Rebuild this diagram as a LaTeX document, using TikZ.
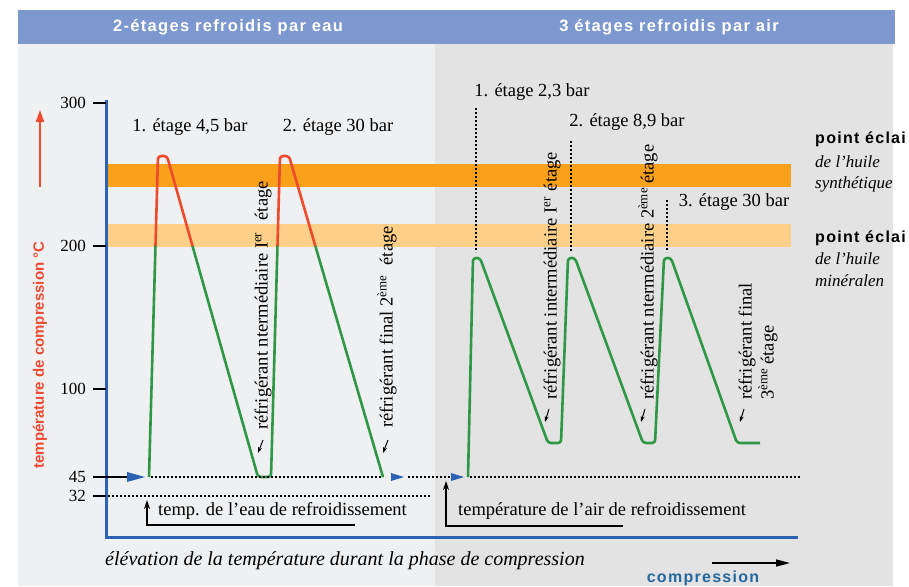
\documentclass[tikz,border=0pt]{standalone}
\usepackage{fontspec}
\setmainfont{Liberation Serif}
\setsansfont{Liberation Sans}
\newfontfamily\widesans[LetterSpace=8.0]{Liberation Sans}
\usetikzlibrary{arrows.meta}

\definecolor{bandblue}{HTML}{7C98CF}
\definecolor{lightpanel}{HTML}{EFF0F2}
\definecolor{panelgray}{HTML}{E3E3E4}
\definecolor{orangedark}{HTML}{F9A11B}
\definecolor{orangelight}{HTML}{FDD08A}
\definecolor{axisblue}{HTML}{2C62B4}
\definecolor{hotred}{HTML}{EE4A2B}
\definecolor{coolgreen}{HTML}{2F9845}
\definecolor{labelred}{HTML}{F04A32}
\definecolor{comptext}{HTML}{2468A0}

\begin{document}
\begin{tikzpicture}[x=1pt, y=-1pt,
    curve/.style={line width=2.6pt, line join=round, rounded corners=3pt},
    hot/.style={curve, draw=hotred},
    cool/.style={curve, draw=coolgreen},
    dotline/.style={line width=2pt, dash pattern=on 2pt off 2pt},
    tickmark/.style={line width=1.2pt},
    lbl/.style={font=\fontsize{18.5}{20}\selectfont, inner sep=0pt},
    vlbl/.style={lbl, rotate=90, anchor=west},
    ticklbl/.style={lbl, font=\fontsize{17}{19}\selectfont, anchor=east},
    headtxt/.style={font=\widesans\bfseries\fontsize{16.5}{18}\selectfont, text=white, inner sep=0pt},
    oiltitle/.style={font=\widesans\bfseries\fontsize{16}{18}\selectfont, anchor=west, inner sep=0pt},
    oiltxt/.style={font=\itshape\fontsize{17}{19}\selectfont, anchor=west, inner sep=0pt},
    coolarrow/.style={-{Stealth[length=6pt, width=4pt]}, line width=1pt},
    bluetip/.style={fill=axisblue}]
    \useasboundingbox (0,0) rectangle (909,586);

    % panels and header
    \fill[lightpanel] (18,44) rectangle (435,586);
    \fill[panelgray] (435,44) rectangle (893,586);
    \fill[bandblue] (18,10) rectangle (895,44);
    \node[headtxt] (headWater) at (228,27) {2-étages refroidis par eau};
    \node[headtxt] (headAir) at (669,27) {3 étages refroidis par air};

    % flash point bands
    \fill[orangedark] (106,164) rectangle (791,187);
    \fill[orangelight] (106,224) rectangle (791,247);

    % axes
    \draw[axisblue, line width=3pt] (106,100) -- (106,537) -- (798,537);
    \foreach \yy/\tt in {103/300, 246/200, 389/100, 477/45, 496/32}{
        \draw[tickmark] (93,\yy) -- (106,\yy);
        \node[ticklbl] (tick\tt) at (86,\yy) {\tt};
    }
    \node[font=\sffamily\bfseries\fontsize{15}{17}\selectfont, text=labelred, rotate=90, inner sep=0pt] (yTitle) at (40,355) {température de compression °C};
    \draw[labelred, line width=2pt, -{Triangle[length=12pt, width=8pt]}] (40,187) -- (40,110);

    % water cooled, 2 stages
    \def\waterpath{(149,477) -- (158,156) -- (167,156) -- (258,477) -- (271,477) -- (280,156) -- (289,156) -- (383,477)}
    \begin{scope}
        \clip (100,100) rectangle (440,246);
        \draw[hot] \waterpath;
    \end{scope}
    \begin{scope}
        \clip (100,246) rectangle (440,490);
        \draw[cool] \waterpath;
    \end{scope}

    % air cooled, 3 stages
    \draw[cool] (468,477) -- (473,258) -- (480,258) -- (548,443) -- (561,443) -- (568,258) -- (575,258)
        -- (643,443) -- (655,443) -- (664,258) -- (671,258) -- (737,443) -- (760,443);

    % dotted lines
    \draw[dotline] (151,477) -- (383,477);
    \draw[dotline] (408,477) -- (450,477);
    \draw[dotline] (470,477) -- (800,477);
    \draw[dotline] (108,496) -- (430,496);
    \draw[dotline] (476,108) -- (476,252);
    \draw[dotline] (571,141) -- (571,252);
    \draw[dotline] (667,200) -- (667,252);

    % inlet arrows
    \draw[tickmark] (93,477) -- (130,477);
    \fill[bluetip] (127,472) -- (145,477) -- (127,482) -- cycle;
    \fill[bluetip] (391,473) -- (404,477) -- (391,481) -- cycle;
    \fill[bluetip] (451,473) -- (464,477) -- (451,481) -- cycle;

    % stage labels
    \node[lbl] (wStage1) at (190,127) {1. étage 4,5 bar};
    \node[lbl] (wStage2) at (338,127) {2. étage 30 bar};
    \node[lbl] (aStage1) at (532,92) {1. étage 2,3 bar};
    \node[lbl] (aStage2) at (627,122) {2. étage 8,9 bar};
    \node[lbl] (aStage3) at (734,202) {3. étage 30 bar};

    % cooler labels
    \node[vlbl] (wCool1) at (263,430) {réfrigérant ntermédiaire I\textsuperscript{er}\hspace{12pt}étage};
    \node[vlbl] (wCool2) at (387,428) {réfrigérant final 2\textsuperscript{ème}\hspace{10pt}étage};
    \node[vlbl] (aCool1) at (552,400) {réfrigérant intermédiaire I\textsuperscript{er}\hspace{6pt}étage};
    \node[vlbl] (aCool2) at (648,400) {réfrigérant ntermédiaire 2\textsuperscript{ème}\hspace{4pt}étage};
    \node[vlbl] (aCool3a) at (747,400) {réfrigérant final};
    \node[vlbl] (aCool3b) at (768,400) {3\textsuperscript{ème}\hspace{4pt}étage};
    \draw[coolarrow] (263,440) -- (258,453);
    \draw[coolarrow] (388,440) -- (383,453);
    \draw[coolarrow] (549,409) -- (545,422);
    \draw[coolarrow] (645,409) -- (641,422);
    \draw[coolarrow] (744,409) -- (740,422);

    % cooling medium
    \node[lbl, anchor=west] (waterTemp) at (158,511) {temp. de l’eau de refroidissement};
    \node[lbl, anchor=west] (airTemp) at (458,511) {température de l’air de refroidissement};
    \coordinate (waterFoot) at (355,525);
    \coordinate (waterTip) at (147,500);
    \coordinate (airFoot) at (623,526);
    \coordinate (airTip) at (446,481);
    \draw[line width=1.2pt, -{Stealth[length=9pt, width=6pt]}] (waterFoot) -| (waterTip);
    \draw[line width=1.2pt, -{Stealth[length=9pt, width=6pt]}] (airFoot) -| (airTip);

    % oil flash points
    \node[oiltitle] (synTitle) at (815,139) {point éclai};
    \node[oiltxt] (synA) at (815,162) {de l’huile};
    \node[oiltxt] (synB) at (815,184) {synthétique};
    \node[oiltitle] (minTitle) at (815,238) {point éclai};
    \node[oiltxt] (minA) at (815,259) {de l’huile};
    \node[oiltxt] (minB) at (815,281) {minéralen};

    % bottom captions
    \node[font=\itshape\fontsize{20}{22}\selectfont, anchor=west, inner sep=0pt] (caption) at (105,561) {élévation de la température durant la phase de compression};
    \coordinate (compStart) at (712,563);
    \coordinate (compEnd) at (790,563);
    \draw[line width=1.5pt, -{Triangle[length=14pt, width=7pt]}] (compStart) -- (compEnd);
    \node[font=\widesans\bfseries\fontsize{16}{18}\selectfont, text=comptext, inner sep=0pt] (compWord) at (703,578) {compression};
\end{tikzpicture}
\end{document}
